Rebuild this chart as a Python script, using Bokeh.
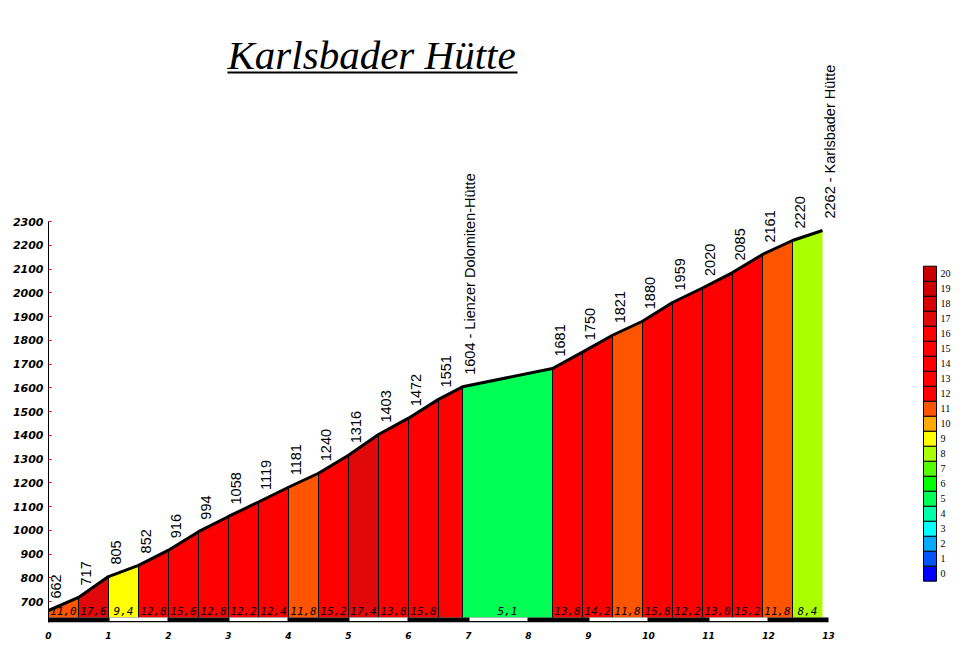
import math
from bokeh.plotting import figure
from bokeh.models import FixedTicker, Range1d
from bokeh.core.properties import value
from bokeh.embed import file_html
from bokeh.resources import INLINE

# ---------------- data ----------------
dist_km = [0, 0.5, 1.0, 1.5, 2.0, 2.5, 3.0, 3.5, 4.0, 4.5, 5.0, 5.5, 6.0, 6.5,
           6.9, 8.4, 8.9, 9.4, 9.9, 10.4, 10.9, 11.4, 11.9, 12.4, 12.9]
elev_m = [662, 717, 805, 852, 916, 994, 1058, 1119, 1181, 1240, 1316, 1403, 1472, 1551,
          1604, 1681, 1750, 1821, 1880, 1959, 2020, 2085, 2161, 2220, 2262]
place_names = {14: "Lienzer Dolomiten-Hütte", 24: "Karlsbader Hütte"}
grades = [11.0, 17.6, 9.4, 12.8, 15.6, 12.8, 12.2, 12.4, 11.8, 15.2, 17.4, 13.8, 15.8,
          13.3, 5.1, 13.8, 14.2, 11.8, 15.8, 12.2, 13.0, 15.2, 11.8, 8.4]
grade_shown = [True] * 13 + [False] + [True] * 10
legend_levels = list(range(21))
palette = ["#0000ff", "#0055ff", "#00aaff", "#00ffff", "#00ffaa", "#00ff55", "#00ff00",
           "#55ff00", "#aaff00", "#ffff00", "#ffaa00", "#ff5500", "#ff0000", "#ff0000",
           "#ff0000", "#ff0000", "#ff0000", "#e00808", "#d80000", "#d00000", "#c80000"]
x_ticks = list(range(14))
y_ticks = list(range(700, 2301, 100))
title_text = "Karlsbader Hütte"

# ---------------- layout helpers (canvas pixels -> data) ----------------
X0_PX, PX_PER_KM = 48, 60.0
Y700_PX, PX_PER_M = 601, 0.2375


def px_x(px):
    return (px - X0_PX) / PX_PER_KM


def px_y(py):
    return 700 + (Y700_PX - py) / PX_PER_M


W, H = 954, 648
FRAME_BOTTOM = 622
p = figure(width=W, height=H, output_backend="svg", toolbar_location=None,
           x_range=Range1d(px_x(48), px_x(W)), y_range=Range1d(px_y(FRAME_BOTTOM), px_y(0)),
           min_border_left=48, min_border_right=0, min_border_top=0,
           min_border_bottom=H - FRAME_BOTTOM)
p.outline_line_color = None
p.xgrid.visible = False
p.ygrid.visible = False
p.background_fill_color = "white"

base = px_y(617)

# segments
xs, ys, cols = [], [], []
for i in range(len(grades)):
    x0, x1 = dist_km[i], dist_km[i + 1]
    e0, e1 = elev_m[i], elev_m[i + 1]
    xs.append([x0, x0, x1, x1])
    ys.append([base, e0, e1, base])
    cols.append(palette[min(int(grades[i]), 20)])
p.patches(xs=xs, ys=ys, fill_color=cols, line_color=None)

# separators
p.segment(x0=dist_km[1:-1], y0=[base] * (len(dist_km) - 2), x1=dist_km[1:-1], y1=elev_m[1:-1],
          line_color="black", line_width=1)

# profile line
p.line(dist_km, elev_m, line_color="black", line_width=3)

# km bar
p.quad(left=[0], right=[x_ticks[-1]], bottom=[px_y(FRAME_BOTTOM)], top=[base],
       fill_color="black", line_color=None)
odd = [k for k in x_ticks[:-1] if k % 2 == 1]
p.quad(left=[k + 1 / PX_PER_KM for k in odd], right=[k + 1 - 1 / PX_PER_KM for k in odd],
       bottom=[px_y(620.5)] * len(odd), top=[base] * len(odd), fill_color="white", line_color=None)

# grade labels
gx, gt = [], []
for i, g in enumerate(grades):
    if grade_shown[i]:
        gx.append((dist_km[i] + dist_km[i + 1]) / 2)
        gt.append(("%.1f" % g).replace(".", ","))
p.text(x=gx, y=[base] * len(gx), text=gt, text_align="center", text_baseline="middle",
       y_offset=-7, text_font=value("DejaVu Sans Mono"), text_font_style="italic",
       text_font_size="11px", text_color="black")

# point labels
labels = []
for i, e in enumerate(elev_m):
    s = str(e)
    if i in place_names:
        s += " - " + place_names[i]
    labels.append(s)
p.text(x=dist_km, y=elev_m, text=labels, angle=math.pi / 2, text_align="left",
       text_baseline="middle", x_offset=7, y_offset=-12,
       text_font=value("Liberation Sans"), text_font_size="14.5px", text_color="black")

# legend colour scale
box_h = 15
lb = [px_y(580.7 - box_h * v) for v in legend_levels]
lt = [px_y(580.7 - box_h * (v + 1)) for v in legend_levels]
p.quad(left=[px_x(923)] * 21, right=[px_x(936)] * 21, bottom=lb, top=lt,
       fill_color=palette, line_color="black", line_width=1)
p.text(x=[px_x(940)] * 21, y=[(a + b) / 2 for a, b in zip(lb, lt)], text=[str(v) for v in legend_levels],
       text_align="left", text_baseline="middle", text_font=value("Liberation Serif"),
       text_font_size="10px", text_color="black")

# title
p.text(x=[px_x(227)], y=[px_y(54)], text=[title_text], text_align="left", text_baseline="middle",
       text_font=value("Liberation Serif"), text_font_style="italic", text_font_size="41px",
       text_color="black")
p.segment(x0=[px_x(227)], y0=[px_y(72)], x1=[px_x(517)], y1=[px_y(72)], line_color="black", line_width=2)

# axes
p.yaxis.ticker = FixedTicker(ticks=y_ticks)
p.yaxis.bounds = (px_y(FRAME_BOTTOM), y_ticks[-1])
p.yaxis.axis_line_color = "black"
p.yaxis.major_tick_line_color = "red"
p.yaxis.major_tick_in = 3
p.yaxis.major_tick_out = 0
p.yaxis.minor_tick_line_color = None
p.yaxis.major_label_standoff = 5
p.yaxis.major_label_text_font = "DejaVu Sans"
p.yaxis.major_label_text_font_style = "bold italic"
p.yaxis.major_label_text_font_size = "11px"
p.yaxis.major_label_text_color = "black"

p.xaxis.ticker = FixedTicker(ticks=x_ticks)
p.xaxis.axis_line_color = None
p.xaxis.major_tick_line_color = None
p.xaxis.minor_tick_line_color = None
p.xaxis.major_label_standoff = 3
p.xaxis.major_label_text_font = "DejaVu Sans"
p.xaxis.major_label_text_font_style = "bold italic"
p.xaxis.major_label_text_font_size = "9px"
p.xaxis.major_label_text_color = "black"

open("out.html", "w").write(file_html(p, INLINE))
